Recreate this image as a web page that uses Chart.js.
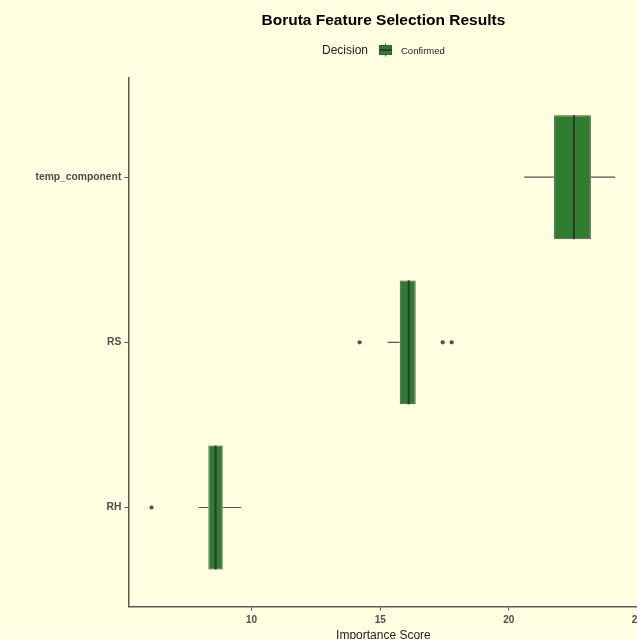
<!DOCTYPE html>
<html>
<head>
<meta charset="utf-8">
<script src="https://cdn.jsdelivr.net/npm/chart.js@4.4.1/dist/chart.umd.min.js"></script>
<style>
  html, body { margin: 0; padding: 0; background: #fffee0; overflow: hidden; }
  #wrap { width: 660px; height: 639px; }
</style>
</head>
<body>
<div id="wrap"><canvas id="boruta" width="660" height="639"></canvas></div>
<script>
// Boruta importance per feature (boxplot summary, top to bottom)
const categories   = ['temp_component', 'RS', 'RH'];
const lowerWhisker = [20.60, 15.29, 7.94];
const q1           = [21.76, 15.76, 8.32];
const median       = [22.53, 16.11, 8.60];
const q3           = [23.19, 16.38, 8.88];
const upperWhisker = [24.14, 16.38, 9.60];
const outliers     = [[], [14.20, 17.43, 17.78], [6.11]];
const xTicks       = [10, 15, 20, 25];

const decisionLabel = 'Confirmed';

const COLORS = {
  bg      : '#fffee0',
  box     : '#2e7d2e',
  boxLine : '#4d4d4d',
  median  : '#333333',
  whisker : '#555555',
  outlier : '#505050',
  axis    : '#5a5a5a',
  tick    : '#4d4d4d',
  text    : '#222222'
};
const FONT = "'Liberation Sans', Arial, sans-serif";

// ggplot-style 5% expansion on the value axis
const allValues = [].concat(lowerWhisker, upperWhisker, ...outliers);
const vMin = Math.min(...allValues), vMax = Math.max(...allValues);
const vPad = (vMax - vMin) * 0.05;

// whiskers, medians and outlier dots on top of the floating bars
const boxWhiskers = {
  id: 'boxWhiskers',
  afterDatasetsDraw(chart) {
    const { ctx, scales: { x, y } } = chart;
    const bars = chart.getDatasetMeta(0).data;
    ctx.save();
    categories.forEach((_, i) => {
      const cy = y.getPixelForValue(i);
      const h  = bars[i].height;

      ctx.strokeStyle = COLORS.whisker;
      ctx.lineWidth = 1.2;
      ctx.beginPath();
      ctx.moveTo(x.getPixelForValue(lowerWhisker[i]), cy);
      ctx.lineTo(x.getPixelForValue(q1[i]), cy);
      ctx.moveTo(x.getPixelForValue(q3[i]), cy);
      ctx.lineTo(x.getPixelForValue(upperWhisker[i]), cy);
      ctx.stroke();

      const mx = x.getPixelForValue(median[i]);
      ctx.strokeStyle = COLORS.median;
      ctx.lineWidth = 2;
      ctx.beginPath();
      ctx.moveTo(mx, cy - h / 2);
      ctx.lineTo(mx, cy + h / 2);
      ctx.stroke();

      ctx.fillStyle = COLORS.outlier;
      outliers[i].forEach(v => {
        ctx.beginPath();
        ctx.arc(x.getPixelForValue(v), cy, 2.1, 0, Math.PI * 2);
        ctx.fill();
      });
    });
    ctx.restore();
  }
};

// "Decision [key] Confirmed" legend row under the title
const decisionLegend = {
  id: 'decisionLegend',
  afterDraw(chart) {
    const { ctx, chartArea } = chart;
    const cx = (chartArea.left + chartArea.right) / 2;
    const cy = 50;
    ctx.save();
    ctx.textBaseline = 'middle';
    ctx.font = `12px ${FONT}`;
    const w1 = ctx.measureText('Decision').width;
    ctx.font = `9.5px ${FONT}`;
    const w2 = ctx.measureText(decisionLabel).width;
    const keyW = 15, gap1 = 10, gap2 = 8;
    let xPos = cx - (w1 + gap1 + keyW + gap2 + w2) / 2;

    ctx.fillStyle = COLORS.text;
    ctx.font = `12px ${FONT}`;
    ctx.fillText('Decision', xPos, cy + 1);
    xPos += w1 + gap1;

    // key glyph: small vertical box with whisker stubs
    const kx = xPos + keyW / 2;
    ctx.strokeStyle = COLORS.whisker;
    ctx.lineWidth = 1;
    ctx.beginPath();
    ctx.moveTo(kx, cy - 6.5); ctx.lineTo(kx, cy - 5);
    ctx.moveTo(kx, cy + 5);   ctx.lineTo(kx, cy + 6.5);
    ctx.stroke();
    ctx.fillStyle = COLORS.box;
    ctx.fillRect(xPos + 1, cy - 5, keyW - 2, 10);
    ctx.strokeStyle = COLORS.boxLine;
    ctx.strokeRect(xPos + 1.5, cy - 4.5, keyW - 3, 9);
    ctx.strokeStyle = COLORS.median;
    ctx.lineWidth = 1.6;
    ctx.beginPath();
    ctx.moveTo(xPos + 1.5, cy); ctx.lineTo(xPos + keyW - 1.5, cy);
    ctx.stroke();
    xPos += keyW + gap2;

    ctx.fillStyle = COLORS.text;
    ctx.font = `9.5px ${FONT}`;
    ctx.fillText(decisionLabel, xPos, cy + 1);
    ctx.restore();
  }
};

new Chart(document.getElementById('boruta'), {
  type: 'bar',
  data: {
    datasets: [{
      label: decisionLabel,
      data: categories.map((_, i) => ({ y: i, x: [q1[i], q3[i]] })),
      backgroundColor: COLORS.box,
      borderColor: COLORS.boxLine,
      borderWidth: 1,
      borderSkipped: false,
      categoryPercentage: 1,
      barPercentage: 0.75
    }]
  },
  options: {
    indexAxis: 'y',
    responsive: false,
    animation: false,
    layout: { padding: { left: 32.5, right: 21.5, top: 0, bottom: -4 } },
    plugins: {
      legend: { display: false },
      tooltip: { enabled: false },
      title: {
        display: true,
        text: 'Boruta Feature Selection Results',
        fullSize: false,
        color: '#000',
        font: { family: FONT, size: 15.5, weight: 'bold', lineHeight: 1.2 },
        padding: { top: 11, bottom: 48.5 }
      }
    },
    scales: {
      x: {
        type: 'linear',
        min: vMin - vPad,
        max: vMax + vPad,
        afterBuildTicks: scale => { scale.ticks = xTicks.map(v => ({ value: v })); },
        ticks: {
          color: COLORS.tick,
          padding: 5.5,
          maxRotation: 0,
          font: { family: FONT, size: 10, weight: 'bold', lineHeight: 0.9 }
        },
        grid: { drawOnChartArea: false, tickLength: 4, color: COLORS.axis, lineWidth: 1 },
        border: { display: true, color: COLORS.axis, width: 1.5 },
        title: {
          display: true,
          text: 'Importance Score',
          color: COLORS.text,
          font: { family: FONT, size: 12, lineHeight: 1.2 },
          padding: { top: -2, bottom: 0 }
        }
      },
      y: {
        type: 'linear',
        reverse: true,
        offset: false,
        min: -0.6,
        max: categories.length - 0.4,
        afterBuildTicks: scale => { scale.ticks = categories.map((_, i) => ({ value: i })); },
        ticks: {
          color: COLORS.tick,
          padding: 3,
          font: { family: FONT, size: 10.3, weight: 'bold' },
          callback: v => categories[v]
        },
        grid: { offset: false, drawOnChartArea: false, tickLength: 4, color: COLORS.axis, lineWidth: 1 },
        border: { display: true, color: COLORS.axis, width: 1.5 }
      }
    }
  },
  plugins: [boxWhiskers, decisionLegend]
});
</script>
</body>
</html>
